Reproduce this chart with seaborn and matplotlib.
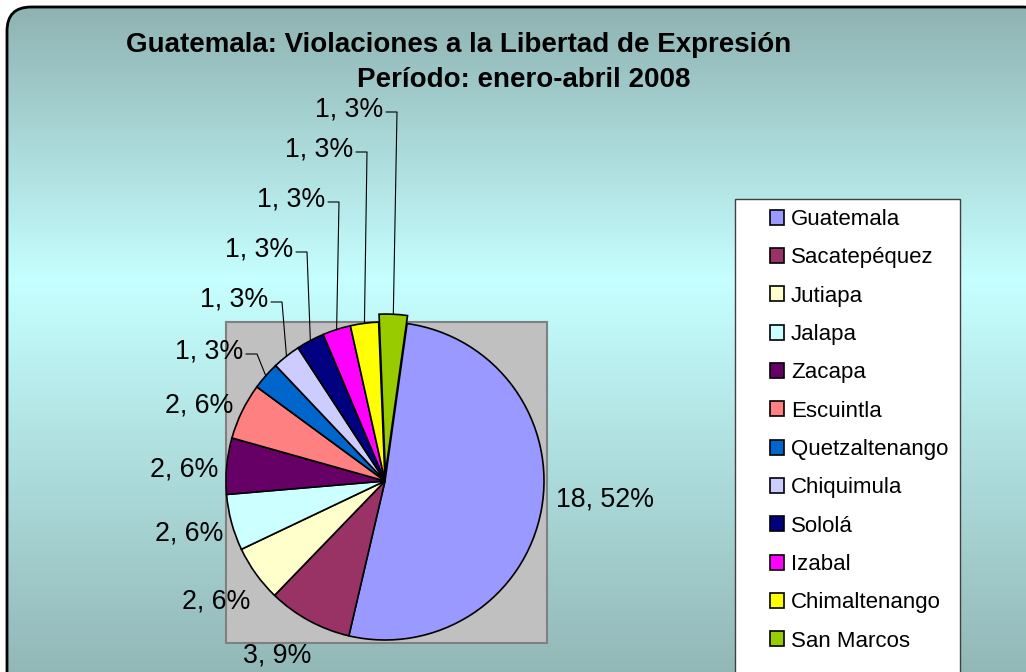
import numpy as np
import matplotlib
matplotlib.use("Agg")
import matplotlib.pyplot as plt
import seaborn as sns
from matplotlib.patches import FancyBboxPatch, Rectangle

# datos: violaciones a la libertad de expresión, enero-abril 2008
departamentos = ['Guatemala', 'Sacatepéquez', 'Jutiapa', 'Jalapa', 'Zacapa', 'Escuintla',
                 'Quetzaltenango', 'Chiquimula', 'Sololá', 'Izabal', 'Chimaltenango', 'San Marcos']
casos = [18, 3, 2, 2, 2, 2, 1, 1, 1, 1, 1, 1]
porcentajes = [52, 9, 6, 6, 6, 6, 3, 3, 3, 3, 3, 3]
colores = ['#9999FF', '#993366', '#FFFFCC', '#CCFFFF', '#660066', '#FF8080',
           '#0066CC', '#CCCCFF', '#000080', '#FF00FF', '#FFFF00', '#99CC00']

sns.set_style('white')
plt.rcParams['font.family'] = ['Liberation Sans', 'DejaVu Sans']
plt.rcParams['text.color'] = 'black'

W, H = 1026, 672
fig = plt.figure(figsize=(W / 100, H / 100), dpi=100)

# fondo con degradado y borde redondeado
bg = fig.add_axes([0, 0, 1, 1], zorder=0)
bg.set_xlim(0, W)
bg.set_ylim(H, 0)
bg.axis('off')

ys = np.arange(0, 701)
c_borde = np.array([143, 178, 178]) / 255
c_centro = np.array([198, 255, 255]) / 255
t = np.where(ys < 280, (ys - 7) / (280 - 7), (700 - ys) / (700 - 280))
t = np.clip(t, 0, 1)
grad = c_borde + (c_centro - c_borde) * t[:, None]
img = bg.imshow(grad[:, None, :], extent=[0, 1050, 700, 0], aspect='auto', zorder=0)

caja = FancyBboxPatch((7, 7), 1040, 700, boxstyle='round,pad=0,rounding_size=24',
                      fc='none', ec='black', lw=2, zorder=1)
bg.add_patch(caja)
img.set_clip_path(caja)

bg.add_patch(Rectangle((226, 322), 321, 321, fc='#C0C0C0', ec='#808080', lw=1.5, zorder=2))
bg.add_patch(Rectangle((735, 199), 225, 520, fc='white', ec='#404040', lw=1, zorder=2))

# pastel
ax = fig.add_axes([(385 - 159) / W, 1 - (481 + 159) / H, 318 / W, 318 / H], zorder=1)
explode = [0] * (len(casos) - 1) + [0.05]
wedges, _ = ax.pie(casos, colors=colores, startangle=82, counterclock=False, explode=explode,
                   wedgeprops=dict(edgecolor='black', linewidth=1.2))
ax.set_xlim(-1, 1)
ax.set_ylim(-1, 1)
ax.set_aspect('equal')
for w in wedges:
    w.set_clip_on(False)

# capa superior para textos
ov = fig.add_axes([0, 0, 1, 1], zorder=3)
ov.patch.set_alpha(0)
ov.set_xlim(0, W)
ov.set_ylim(H, 0)
ov.axis('off')

ov.text(459, 45, 'Guatemala: Violaciones a la Libertad de Expresión', ha='center', va='center',
        fontsize=20, fontweight='bold')
ov.text(524, 80, 'Período: enero-abril 2008', ha='center', va='center',
        fontsize=20, fontweight='bold')

pos_etiquetas = [(556, 500, 'left'), (243, 655, 'left'), (250, 601, 'right'), (223, 534, 'right'),
                 (218, 470, 'right'), (233, 405, 'right'), (243, 352, 'right'), (268, 300, 'right'),
                 (293, 250, 'right'), (325, 200, 'right'), (353, 150, 'right'), (383, 110, 'right')]


def borde_cuna(w):
    ang = np.deg2rad((w.theta1 + w.theta2) / 2)
    cx, cy = w.center
    px, py = ax.transData.transform((cx + w.r * np.cos(ang), cy + w.r * np.sin(ang)))
    return px, H - py


for w, c, p, (x, y, ha) in zip(wedges, casos, porcentajes, pos_etiquetas):
    ov.text(x, y, f'{c}, {p}%', ha=ha, va='center', fontsize=19.3)
    if c == 1:
        ex, ey = borde_cuna(w)
        ov.plot([x + 3, x + 14, ex], [y + 2, y + 2, ey], color='black', lw=0.8)

fig.legend(wedges, departamentos, loc='upper left', bbox_to_anchor=(770 / W, 1 - 209 / H),
           frameon=False, fontsize=16, handlelength=0.65, handleheight=0.65,
           handletextpad=0.3, labelspacing=0.78, borderpad=0, borderaxespad=0)

fig.savefig('out.png', dpi=100)
